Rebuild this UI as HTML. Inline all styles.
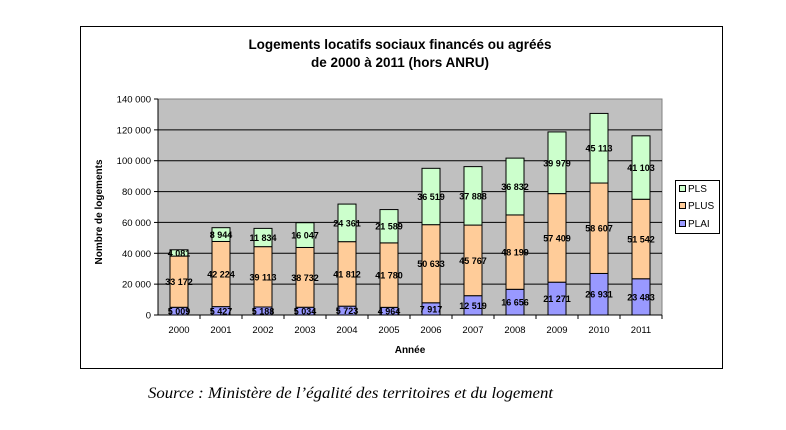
<!DOCTYPE html>
<html><head><meta charset="utf-8"><style>
body{margin:0;background:#fff;width:786px;height:425px;overflow:hidden;font-family:"Liberation Sans",sans-serif}
</style></head><body>
<svg width="786" height="425" xmlns="http://www.w3.org/2000/svg" font-family="Liberation Sans, sans-serif">
<rect x="80.5" y="26.5" width="642" height="342" fill="#fff" stroke="#000" stroke-width="1"/>
<text x="400" y="49" text-anchor="middle" font-size="13.5" font-weight="bold">Logements locatifs sociaux financés ou agréés</text>
<text x="400" y="67" text-anchor="middle" font-size="13.5" font-weight="bold">de 2000 à 2011 (hors ANRU)</text>
<rect x="158" y="99" width="504" height="216" fill="#c0c0c0" stroke="#808080"/>
<g id="grid"></g><g id="bars"></g><g id="axes"></g>
<text transform="translate(102,212) rotate(-90)" text-anchor="middle" font-size="10" font-weight="bold">Nombre de logements</text>
<text x="410" y="353" text-anchor="middle" font-size="10" font-weight="bold">Année</text>
<g>
<rect x="675.5" y="180.5" width="44" height="53" fill="#fff" stroke="#000"/>
<rect x="679.5" y="185.5" width="6" height="6" fill="#ccffcc" stroke="#000"/>
<text x="688" y="192" font-size="10">PLS</text>
<rect x="679.5" y="202.5" width="6" height="6" fill="#ffcc99" stroke="#000"/>
<text x="688" y="209" font-size="10">PLUS</text>
<rect x="679.5" y="220.5" width="6" height="6" fill="#9999ff" stroke="#000"/>
<text x="688" y="227" font-size="10">PLAI</text>
</g>
<text x="148" y="398" font-family="Liberation Serif, serif" font-style="italic" font-size="15.5" textLength="405" lengthAdjust="spacingAndGlyphs">Source : Ministère de l’égalité des territoires et du logement</text>
</svg>
<script>
const years=["2000","2001","2002","2003","2004","2005","2006","2007","2008","2009","2010","2011"];
const plai=[5009,5427,5188,5034,5723,4964,7917,12519,16656,21271,26931,23483];
const plus=[33172,42224,39113,38732,41812,41780,50633,45767,48199,57409,58607,51542];
const pls=[4081,8944,11834,16047,24361,21589,36519,37888,36832,39979,45113,41103];
const yTicks=[0,20000,40000,60000,80000,100000,120000,140000];
const NS="http://www.w3.org/2000/svg";
const X0=158,X1=662,Y0=315,Y1=99,MAX=140000;
const y=v=>Y0-(v/MAX)*(Y0-Y1);
const bw=(X1-X0)/years.length;
const xc=i=>X0+bw*(i+0.5);
const fmt=v=>String(v).replace(/\B(?=(\d{3})+(?!\d))/g," ");
function mk(tag,at,par){const e=document.createElementNS(NS,tag);for(const k in at)e.setAttribute(k,at[k]);document.getElementById(par).appendChild(e);return e;}
yTicks.forEach(t=>{
 if(t>0&&t<MAX){const l=mk("line",{x1:X0,x2:X1,y1:y(t),y2:y(t),stroke:"#000","stroke-width":1},"grid");
 
 }
 const tk=mk("line",{x1:X0-4,x2:X0,y1:y(t),y2:y(t),stroke:"#000"},"axes");
 
 
 const tx=mk("text",{x:X0-7,y:y(t)+3.5,"text-anchor":"end","font-size":"9.5"},"axes");
 tx.textContent=fmt(t);
 
 
});
const ax=mk("line",{x1:X0,x2:X0,y1:Y1,y2:Y0,stroke:"#000"},"axes");


const bx=mk("line",{x1:X0,x2:X1,y1:Y0,y2:Y0,stroke:"#000"},"axes");


const series=[["plai",plai,"#9999ff"],["plus",plus,"#ffcc99"],["pls",pls,"#ccffcc"]];
years.forEach((yr,i)=>{
 const t=mk("line",{x1:X0+bw*(i+1),x2:X0+bw*(i+1),y1:Y0,y2:Y0+4,stroke:"#000"},"axes");
 
 
 const lb=mk("text",{x:xc(i),y:Y0+18,"text-anchor":"middle","font-size":"9.5"},"axes");
 lb.textContent=yr;
 
 
 let base=0;
 series.forEach(([n,arr,c])=>{
  const v=arr[i];
  const r=mk("rect",{x:xc(i)-9,y:y(base+v),width:18,height:y(base)-y(base+v),fill:c,stroke:"#000","stroke-width":1},"bars");
  
  
  const tv=mk("text",{x:xc(i),y:(y(base)+y(base+v))/2+3.5,"text-anchor":"middle","font-size":"9","font-weight":"bold"},"bars");
  tv.textContent=fmt(v);
  
  
  base+=v;
 });
});
</script>
</body></html>
